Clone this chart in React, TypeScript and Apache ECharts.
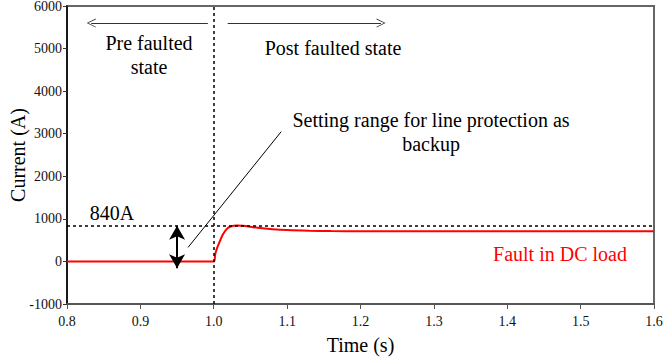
import React, { useEffect, useRef } from "react";
import * as echarts from "echarts";

const times = [0.8, 1.0, 1.002, 1.004, 1.008, 1.012, 1.0175, 1.022, 1.027, 1.032, 1.04, 1.05, 1.06, 1.08, 1.1, 1.13, 1.16, 1.2, 1.3, 1.4, 1.5, 1.6];
const current = [0, 0, 170, 290, 460, 620, 760, 815, 838, 845, 838, 815, 790, 758, 737, 722, 714, 710, 708, 707, 707, 707];
const xTicks = { min: 0.8, max: 1.6, interval: 0.1 };
const yTicks = { min: -1000, max: 6000, interval: 1000 };
const thresholdValue = 840;
const faultTime = 1.0;
const preArrow = [[0.992, 5600], [0.833, 5600]];
const postArrow = [[1.019, 5600], [1.228, 5600]];
const rangeArrow = [[0.95, 840], [0.95, -160]];
const pointerLine = [[0.965, 330], [1.092, 3050]];

const FONT = "'Liberation Serif', 'Times New Roman', serif";
const CHEVRON = "path://M0,10 L5,0 L10,10 L9,10 L5,1.8 L1,10 Z";

export default function App() {
  const ref = useRef<HTMLDivElement>(null);
  useEffect(() => {
    if (!ref.current) return;
    const chart = echarts.init(ref.current, null, { renderer: "svg" });
    const seriesData = times.map((t, i) => [t, current[i]]);
    const blackDash = { color: "#000", type: [3, 3] as any, width: 1.5 };
    const txt = (text: string, x: number, y: number, fill = "#000") => ({
      type: "text", x, y,
      style: { text, fontFamily: FONT, fontSize: 20, fill, align: "center", verticalAlign: "middle" },
    });
    chart.setOption({
      animation: false,
      textStyle: { fontFamily: FONT },
      grid: {
        left: 67, right: 9, top: 6, bottom: 56,
        containLabel: false,
        outerBoundsMode: "none",
        show: true, borderColor: "#666", borderWidth: 2, backgroundColor: "transparent",
      },
      xAxis: {
        type: "value", min: xTicks.min, max: xTicks.max, interval: xTicks.interval,
        name: "Time (s)", nameLocation: "middle", nameGap: 31, nameMoveOverlap: false,
        nameTextStyle: { fontFamily: FONT, fontSize: 20, color: "#000" },
        axisLine: { show: true, onZero: false, lineStyle: { color: "#555", width: 2 } },
        axisTick: { show: true, length: 5, lineStyle: { color: "#555", width: 1 } },
        axisLabel: { fontFamily: FONT, fontSize: 14, color: "#111", margin: 10, formatter: (v: number) => v.toFixed(1) },
        splitLine: { show: false },
      },
      yAxis: {
        type: "value", min: yTicks.min, max: yTicks.max, interval: yTicks.interval,
        name: "Current (A)", nameLocation: "middle", nameGap: 39, nameMoveOverlap: false,
        nameTextStyle: { fontFamily: FONT, fontSize: 20, color: "#000" },
        axisLine: { show: true, onZero: false, lineStyle: { color: "#000", width: 1.5 } },
        axisTick: { show: true, length: 4, lineStyle: { color: "#333", width: 1 } },
        axisLabel: { fontFamily: FONT, fontSize: 14, color: "#111", margin: 5, formatter: (v: number) => String(v) },
        splitLine: { show: false },
      },
      series: [
        {
          type: "line",
          data: seriesData,
          showSymbol: false,
          smooth: 0.3,
          lineStyle: { color: "#ff0000", width: 2 },
          z: 3,
          markLine: {
            silent: true,
            label: { show: false },
            symbol: ["none", "none"],
            data: [
              [
                { coord: [xTicks.min, thresholdValue], lineStyle: blackDash },
                { coord: [xTicks.max, thresholdValue] },
              ],
              [
                { coord: [faultTime, yTicks.min], lineStyle: blackDash },
                { coord: [faultTime, yTicks.max] },
              ],
              [
                { coord: preArrow[0], symbol: "none", lineStyle: { color: "#333", width: 1, type: "solid" } },
                { coord: preArrow[1], symbol: CHEVRON, symbolSize: [9, 9] },
              ],
              [
                { coord: postArrow[0], symbol: "none", lineStyle: { color: "#333", width: 1, type: "solid" } },
                { coord: postArrow[1], symbol: CHEVRON, symbolSize: [9, 9] },
              ],
              [
                { coord: rangeArrow[0], symbol: "arrow", symbolSize: [12, 14], lineStyle: { color: "#000", width: 2, type: "solid" } },
                { coord: rangeArrow[1], symbol: "arrow", symbolSize: [12, 14] },
              ],
              [
                { coord: pointerLine[0], symbol: "none", lineStyle: { color: "#000", width: 1, type: "solid" } },
                { coord: pointerLine[1], symbol: "none" },
              ],
            ],
          },
        },
      ],
      graphic: [
        txt("Pre faulted", 149, 43),
        txt("state", 149, 67),
        txt("Post faulted state", 333, 48),
        txt("Setting range for line protection as", 431, 120),
        txt("backup", 431, 144),
        txt("840A", 112, 213),
        txt("Fault in DC load", 560, 254, "#ff0000"),
      ],
    });
    return () => chart.dispose();
  }, []);
  return <div ref={ref} style={{ width: 663, height: 360, position: "absolute", left: 0, top: 0 }} />;
}
